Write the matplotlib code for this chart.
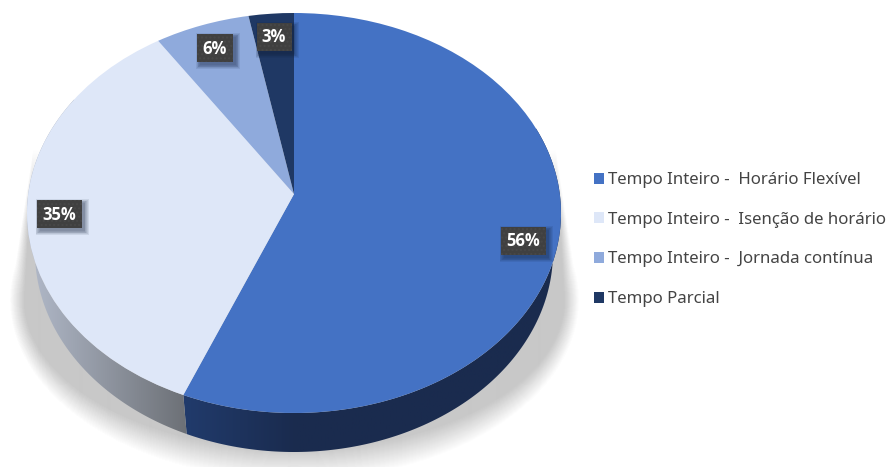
import numpy as np
import matplotlib
matplotlib.use('Agg')
import matplotlib.pyplot as plt
from matplotlib.colors import LinearSegmentedColormap
from matplotlib.patches import Polygon, Rectangle
from matplotlib.transforms import Transform

# data
categories = ['Tempo Inteiro -  Horário Flexível', 'Tempo Inteiro -  Isenção de horário',
              'Tempo Inteiro -  Jornada contínua', 'Tempo Parcial']
values = [56.2, 34.5, 6.3, 3.0]
pct_labels = ['56%', '35%', '6%', '3%']
colors = ['#4472C4', '#DEE7F8', '#8FAADC', '#1F3864']

# label boxes, in pixels
label_x = [523, 59, 215, 274]
label_y = [241, 214, 48, 37]
label_w = [45, 45, 36, 35]

# pie shape in pixels
cx, cy = 294, 194
rx, ry, k = 265.8, 198.2, 0.095
depth = 39
wall_sx = 0.97


class PieView(Transform):
    # tilts the flat unit pie, so that the near side looks bigger
    input_dims = 2
    output_dims = 2

    def transform_non_affine(self, xy):
        xy = np.asarray(xy, dtype=float)
        s = 1 / (1 + k * xy[:, 1])
        return np.column_stack((cx + rx * xy[:, 0] * s, cy - ry * xy[:, 1] * s))


view = PieView()
fig, ax = plt.subplots(figsize=(8.88, 4.67), dpi=100)
fig.subplots_adjust(0, 0, 1, 1)

#%% top of the pie
wedges, _ = ax.pie(values, colors=colors, startangle=90, counterclock=False, radius=1)
for w in wedges:
    w.set_transform(view + ax.transData)
    w.set_zorder(3)

#%% floor shadow, averaged outlines make the soft edge
gx, gy = np.meshgrid(np.arange(888) + 0.5, np.arange(467) + 0.5)
cover = np.zeros(gx.shape)
layers = np.linspace(0, 1, 30)
for u in layers:
    srx = 270 + 14 * u
    sry = 150 + 30 * u
    low = ((gx - cx) / srx) ** 2 + ((gy - 300) / sry) ** 2 <= 1
    half = 261 + (srx - 261) * (gy - 150) / 150  # sides narrow going up
    high = (gy < 300) & (gy > 150) & (np.abs(gx - cx) <= half)
    cover += (low | high)
cover = cover / len(layers) * np.clip((gy - 150) / 70, 0, 1)
shadow = np.zeros(gx.shape + (4,))
shadow[..., :3] = 200 / 255
shadow[..., 3] = cover
ax.imshow(shadow, extent=(0, 888, 467, 0), aspect='auto', zorder=1, interpolation='bilinear')

#%% side walls
wall_colors = [[(0, '#213B6C'), (0.3, '#1A2B4E'), (1, '#1A2B4E')],
               [(0, '#B2BACA'), (1, '#6C7076')]]
start = 0
for i, v in enumerate(values):
    stop = start + v / sum(values) * 360
    t1, t2 = max(start, 70), min(stop, 300)
    start = stop
    if t1 >= t2:
        continue
    t = np.radians(np.linspace(t1, t2, 150))
    top = view.transform_non_affine(np.column_stack((np.sin(t), np.cos(t))))
    bot = top.copy()
    bot[:, 0] = cx + (top[:, 0] - cx) * wall_sx
    bot[:, 1] = top[:, 1] + depth
    outline = np.vstack((top, bot[::-1]))
    clip = Polygon(outline, closed=True, facecolor='none', edgecolor='none')
    ax.add_patch(clip)
    x0, x1 = outline[:, 0].min(), outline[:, 0].max()
    y0, y1 = outline[:, 1].min(), outline[:, 1].max()
    grad = np.linspace(0, 1, 256).reshape(1, -1)
    im = ax.imshow(grad, extent=(x0, x1, y1, y0), aspect='auto', zorder=2,
                   cmap=LinearSegmentedColormap.from_list('wall%d' % i, wall_colors[i]))
    im.set_clip_path(clip)

#%% percent labels
for name, x, y, w in zip(pct_labels, label_x, label_y, label_w):
    h = 28
    for grow in np.linspace(4, 0, 6):
        ax.add_patch(Rectangle((x - w / 2 + 3 - grow, y - h / 2 + 3 - grow), w + 2 * grow, h + 2 * grow,
                               facecolor='#10203A', edgecolor='none', alpha=0.09, zorder=4))
    ax.add_patch(Rectangle((x - w / 2, y - h / 2), w, h, facecolor='#404040', edgecolor='#484848',
                           hatch='....', linewidth=0, zorder=5))
    ax.text(x, y + 0.5, name, color='white', fontsize=12, fontweight='bold', family='Open Sans',
            ha='center', va='center', zorder=6)

#%% legend
leg = ax.legend(wedges, categories, loc='upper left', bbox_to_anchor=(594 / 888, 1 - 172 / 467),
                frameon=False, labelcolor='#444444', handlelength=0.62, handleheight=0.62,
                handletextpad=0.2, labelspacing=1.41, borderpad=0, borderaxespad=0,
                prop={'family': 'Noto Sans', 'size': 12.1})

ax.set_aspect('auto')
ax.set_xlim(0, 888)
ax.set_ylim(467, 0)
ax.axis('off')
fig.savefig('out.png', dpi=100)
